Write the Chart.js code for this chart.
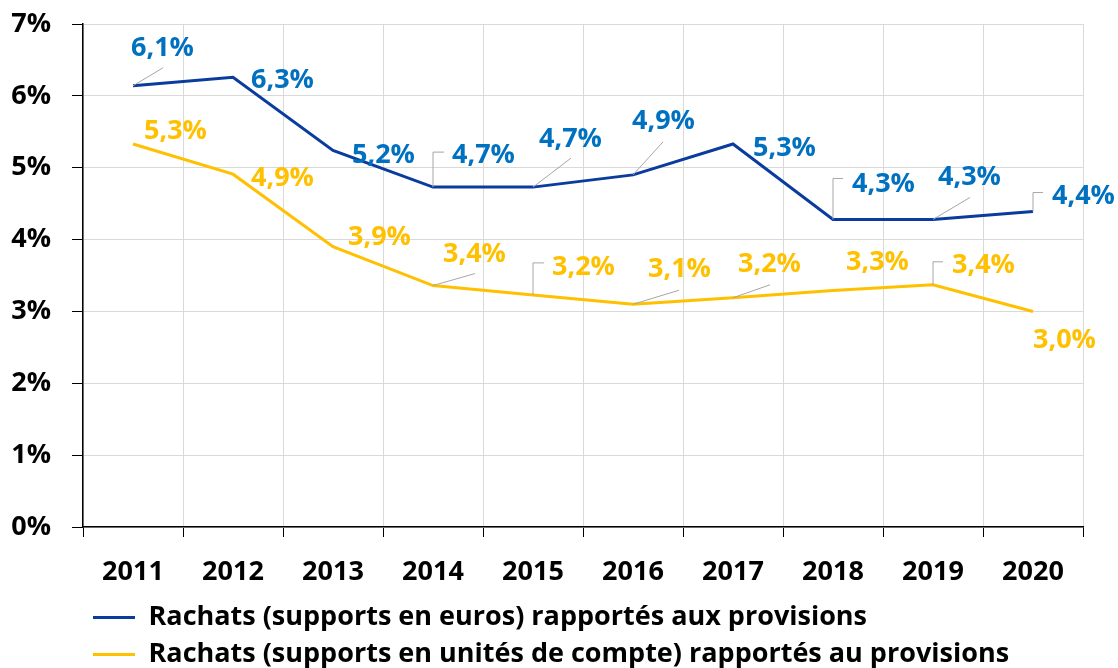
<!DOCTYPE html>
<html>
<head>
<meta charset="utf-8">
<script src="https://cdn.jsdelivr.net/npm/chart.js@4.4.1/dist/chart.umd.min.js"></script>
<style>
  html, body { margin: 0; padding: 0; background: #ffffff; }
  #wrap { width: 1118px; height: 668px; position: relative; }
</style>
</head>
<body>
<div id="wrap"><canvas id="c" width="1118" height="668"></canvas></div>
<script>
// ---- Data ----
const years = ['2011', '2012', '2013', '2014', '2015', '2016', '2017', '2018', '2019', '2020'];
const rachatsEuros = [6.14, 6.26, 5.24, 4.73, 4.73, 4.90, 5.33, 4.28, 4.28, 4.39];
const rachatsUC = [5.33, 4.91, 3.90, 3.36, 3.23, 3.10, 3.19, 3.29, 3.37, 3.00];
const seriesNames = [
  'Rachats (supports en euros) rapportés aux provisions',
  'Rachats (supports en unités de compte) rapportés au provisions'
];
const yTickValues = [0, 1, 2, 3, 4, 5, 6, 7];

// ---- Label placement (style only): text offset [dx, dy] from point, leader type and end offset ----
const eurosLabelPos = [[-2,-39],[18,1],[19,3],[19,-34],[6,-50],[-1,-56],[20,2],[19,-37],[5,-44],[19,-17]];
const eurosLeader = [['d',30,-18],null,null,['e',11,-35],['d',38,-29],['d',30,-33],null,['e',10,-41],['d',37,-22],['e',10,-19]];
const ucLabelPos = [[11,-15],[18,2],[15,-11],[10,-33],[19,-30],[15,-37],[5,-35],[13,-30],[19,-21],[0,27]];
const ucLeader = [null,null,null,['d',42,-12],['e',11,-32],['d',46,-14],['d',37,-13],null,['e',10,-23],null];

const FONT = "'Open Sans', 'Noto Sans', sans-serif";
Chart.defaults.font.family = FONT;
Chart.defaults.font.weight = 'bold';
Chart.defaults.color = '#000000';

function fmt(v) { return v.toFixed(1).replace('.', ',') + '%'; }

const labelPlugin = {
  id: 'pointLabels',
  afterDatasetsDraw(chart) {
    const ctx = chart.ctx;
    const conf = [
      {pos: eurosLabelPos, lead: eurosLeader, color: '#0070C0'},
      {pos: ucLabelPos, lead: ucLeader, color: '#FFC000'}
    ];
    chart.data.datasets.forEach((ds, di) => {
      const meta = chart.getDatasetMeta(di);
      const c = conf[di];
      meta.data.forEach((pt, i) => {
        const x = pt.x, y = pt.y;
        const L = c.lead[i];
        if (L) {
          ctx.save();
          ctx.strokeStyle = '#A6A6A6';
          ctx.lineWidth = 1;
          ctx.beginPath();
          ctx.moveTo(x, y);
          if (L[0] === 'e') {
            ctx.lineTo(x, y + L[2]);
            ctx.lineTo(x + L[1], y + L[2]);
          } else {
            ctx.lineTo(x + L[1], y + L[2]);
          }
          ctx.stroke();
          ctx.restore();
        }
        const p = c.pos[i];
        ctx.save();
        ctx.font = "bold 27px " + FONT;
        ctx.fillStyle = c.color;
        ctx.textAlign = 'left';
        ctx.textBaseline = 'alphabetic';
        ctx.fillText(fmt(ds.data[i]), x + p[0], y + p[1] + 9.6);
        ctx.restore();
      });
    });
  }
};

new Chart(document.getElementById('c'), {
  type: 'line',
  data: {
    labels: years,
    datasets: [
      {label: seriesNames[0], data: rachatsEuros, borderColor: '#0A3C9E', backgroundColor: '#0A3C9E', borderWidth: 3, pointRadius: 0, tension: 0},
      {label: seriesNames[1], data: rachatsUC, borderColor: '#FFC000', backgroundColor: '#FFC000', borderWidth: 3, pointRadius: 0, tension: 0}
    ]
  },
  options: {
    responsive: false,
    animation: false,
    devicePixelRatio: 1,
    layout: {padding: {top: 24, right: 35, left: 0, bottom: -10}},
    plugins: {
      tooltip: {enabled: false},
      legend: {
        position: 'bottom',
        align: 'start',
        fullSize: false,
        labels: {
          boxWidth: 42,
          boxHeight: 3,
          padding: 10,
          color: '#000000',
          font: {size: 27, weight: 'bold', family: FONT},
          generateLabels(chart) {
            return chart.data.datasets.map((ds, i) => ({
              text: ds.label, fillStyle: ds.borderColor, strokeStyle: ds.borderColor,
              lineWidth: 0, hidden: false, datasetIndex: i
            }));
          }
        }
      }
    },
    scales: {
      x: {
        type: 'category',
        offset: true,
        grid: {display: true, offset: true, color: '#D9D9D9', lineWidth: 1, tickColor: '#000000', tickLength: 10, drawTicks: true},
        border: {display: true, color: '#000000', width: 1.5},
        ticks: {padding: 19, font: {size: 27, weight: 'bold'}, color: '#000000', maxRotation: 0, autoSkip: false},
        afterFit(scale) { scale.height = 67; }
      },
      y: {
        min: 0,
        max: 7,
        afterBuildTicks(scale) { scale.ticks = yTickValues.map(v => ({value: v})); },
        grid: {color: '#D9D9D9', lineWidth: 1, tickColor: '#000000', tickLength: 11},
        border: {display: true, color: '#000000', width: 1.5},
        ticks: {padding: 21, font: {size: 27, weight: 'bold'}, color: '#000000', callback: v => v + '%'},
        afterFit(scale) { scale.width = 83; scale.paddingTop = 0; scale.paddingBottom = 0; }
      }
    }
  },
  plugins: [labelPlugin]
});
</script>
</body>
</html>
